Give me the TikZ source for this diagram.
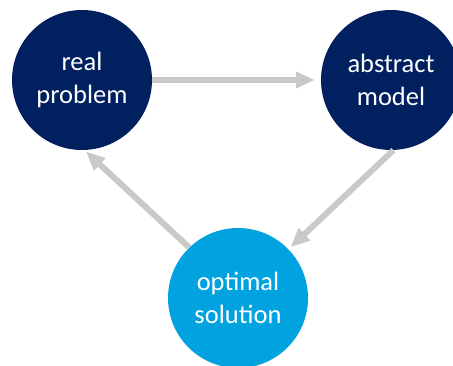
\documentclass[tikz,border=0pt]{standalone}
\usepackage{fontspec}
\setmainfont{Carlito}
\usepackage{tikz}
\usetikzlibrary{arrows.meta}

\definecolor{navy}{HTML}{002060}
\definecolor{skyblue}{HTML}{00A3E0}
\definecolor{arrowgray}{HTML}{C9CAC8}

\begin{document}
\begin{tikzpicture}[x=1pt,y=1pt,
		stage/.style={circle,minimum size=140pt,inner sep=0pt,text=white,align=center,
			font=\fontsize{26.5}{33}\selectfont},
		flow/.style={arrowgray,line width=6pt,-{Triangle[width=16pt,length=19pt]}}]
		\useasboundingbox (0,0) rectangle (453,365);
		
		\coordinate (R) at (82,285);
		\coordinate (M) at (391,285);
		\coordinate (S) at (238,67);
		
		\node[stage,fill=navy] (real) at (R) {real\\problem};
		\node[stage,fill=navy] (model) at (M) {abstract\\model};
		\node[stage,fill=skyblue] (solution) at (S) {optimal\\solution};
		
		\draw[flow,shorten >=6pt] (real.east) -- (model.west);
		\draw[flow,shorten >=3pt] (model.-88) -- (solution.44);
		\draw[flow,shorten >=2pt] (solution.134) -- (real.-88);
	\end{tikzpicture}
\end{document}
